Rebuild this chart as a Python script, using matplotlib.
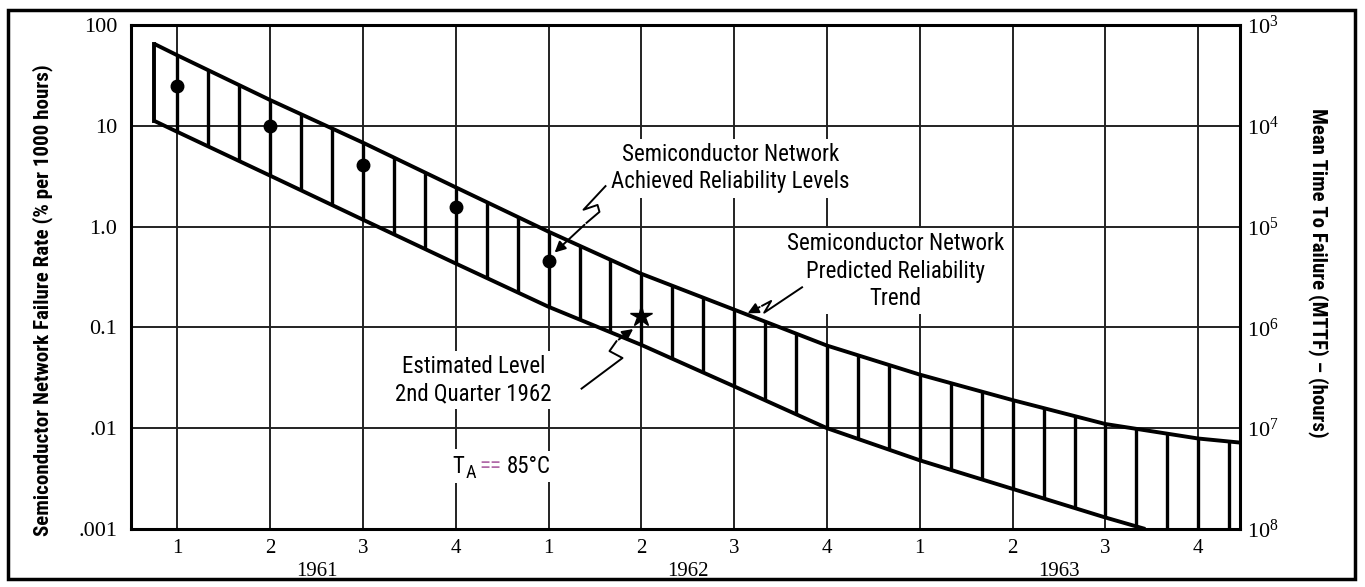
import numpy as np
import matplotlib
matplotlib.use('Agg')
import matplotlib.pyplot as plt
from matplotlib.patches import Rectangle
from matplotlib.ticker import NullLocator
from matplotlib import font_manager
import matplotlib.transforms as mtrans

# pick the narrowest sans that is installed
installed = {f.name for f in font_manager.fontManager.ttflist}
narrow_name = 'Liberation Sans'
for cand in ['Liberation Sans Narrow', 'Roboto Condensed', 'Open Sans Condensed', 'Liberation Sans']:
    if cand in installed:
        narrow_name = cand
        break
narrow = [narrow_name, 'DejaVu Sans']
serif = ['Liberation Serif', 'DejaVu Serif']

# quarters: 1 = 1961 Q1 ... 12 = 1963 Q4
quarter_labels = ['1', '2', '3', '4'] * 3
years = ['1961', '1962', '1963']
year_pos = [2.5, 6.5, 10.5]

# predicted reliability band (failure rate, % per 1000 h)
upper_x = [0.75, 1, 2, 3, 4, 5, 6, 7, 8, 9, 10, 11, 12, 12.45]
upper_y = [65, 50, 18, 6.8, 2.45, 0.89, 0.34, 0.15, 0.066, 0.034, 0.019, 0.011, 0.0079, 0.0072]
lower_x = [0.75, 1, 2, 3, 4, 5, 6, 7, 8, 9, 10, 11, 11.43]
lower_y = [11.2, 8.7, 3.2, 1.17, 0.43, 0.16, 0.067, 0.026, 0.010, 0.0048, 0.0025, 0.0013, 0.001]

# achieved levels and the estimate
achieved_q = [1, 2, 3, 4, 5]
achieved_rate = [24.7, 10, 4.1, 1.58, 0.46]
estimate_q = [6]
estimate_rate = [0.13]

rate_ticks = [0.001, 0.01, 0.1, 1, 10, 100]
rate_labels = ['.001', '.01', '0.1', '1.0', '10', '100']
mttf_labels = [r'$\mathregular{10^8}$', r'$\mathregular{10^7}$', r'$\mathregular{10^6}$',
               r'$\mathregular{10^5}$', r'$\mathregular{10^4}$', r'$\mathregular{10^3}$']

fig = plt.figure(figsize=(13.65, 5.87), dpi=100)
ax = fig.add_axes([131 / 1365, 1 - 529 / 587, (1240 - 131) / 1365, (529 - 25) / 587])
ax.set_yscale('log')
ax.set_xlim(0.5, 12.45)
ax.set_ylim(0.001, 100)
ax.yaxis.set_minor_locator(NullLocator())
ax.set_yticks(rate_ticks)
ax.set_yticklabels(rate_labels, family=serif, fontsize=16)
ax.set_xticks(range(1, 13))
ax.set_xticklabels(quarter_labels, family=serif, fontsize=15)
ax.tick_params(length=0, pad=10)
ax.tick_params(axis='x', pad=7)
ax.grid(True, color='#222222', linewidth=1.4)
ax.set_axisbelow(True)
for s in ax.spines.values():
    s.set_linewidth(2.2)

ax2 = ax.twinx()
ax2.set_yscale('log')
ax2.set_ylim(0.001, 100)
ax2.yaxis.set_minor_locator(NullLocator())
ax2.set_yticks(rate_ticks)
ax2.set_yticklabels(mttf_labels, family=serif, fontsize=16)
ax2.tick_params(length=0, pad=5)
for s in ax2.spines.values():
    s.set_visible(False)

# band edges
ax.plot(upper_x, upper_y, color='black', lw=2.8, solid_capstyle='butt', zorder=4)
ax.plot(lower_x, lower_y, color='black', lw=2.8, solid_capstyle='butt', zorder=4)
ax.plot([upper_x[0], lower_x[0]], [upper_y[0], lower_y[0]], color='black', lw=2.8, zorder=4)

# vertical hatching every third of a quarter
hx = np.arange(3, 38) / 3
top = 10 ** np.interp(hx, upper_x, np.log10(upper_y))
bot = 10 ** np.interp(hx, lower_x, np.log10(lower_y))
ax.vlines(hx, bot, top, color='black', lw=2.4, zorder=3)

ax.plot(achieved_q, achieved_rate, 'o', color='black', ms=9, zorder=5)
ax.plot(estimate_q, estimate_rate, '*', color='black', ms=16, zorder=5)

# font size so that "Semiconductor Network" is as wide as in the original
probe = fig.text(0, 0, 'Semiconductor Network', family=narrow, fontsize=15)
fig.canvas.draw()
r = fig.canvas.get_renderer()
fs = 15 * 217 / probe.get_window_extent(r).width
probe.remove()

box = dict(facecolor='white', edgecolor='none', pad=3)
ax.text(6.96, 3.8, 'Semiconductor Network\nAchieved Reliability Levels', family=narrow,
        fontsize=fs, ha='center', va='center', linespacing=1.25, bbox=box, zorder=6)
ax.text(8.74, 0.36, 'Semiconductor Network\nPredicted Reliability\nTrend', family=narrow,
        fontsize=fs, ha='center', va='center', linespacing=1.25, bbox=box, zorder=6)
ax.text(4.19, 0.030, 'Estimated Level\n2nd Quarter 1962', family=narrow,
        fontsize=fs, ha='center', va='center', linespacing=1.25, bbox=box, zorder=6)

# squiggly pointers
def squiggle(xs, ys, end):
    ax.plot(xs, ys, color='black', lw=1.4, zorder=6)
    ax.annotate('', xy=end, xytext=(xs[-1], ys[-1]),
                arrowprops=dict(arrowstyle='-|>', color='black', lw=1.4, mutation_scale=16), zorder=6)

squiggle([5.613, 5.376, 5.527, 5.548, 5.409], [2.52, 1.47, 1.64, 1.40, 1.09], (5.043, 0.53))
squiggle([5.355, 5.796, 5.656, 5.731], [0.0247, 0.0497, 0.0582, 0.0729], (5.935, 0.1))
squiggle([7.731, 7.323, 7.398, 7.301], [0.25, 0.14, 0.183, 0.164], (7.118, 0.134))

trans = mtrans.blended_transform_factory(ax.transData, ax.transAxes)
for yr, xp in zip(years, year_pos):
    ax.text(xp, -0.085, yr, transform=trans, family=serif, fontsize=15, ha='center', va='center')

ylab = fig.text(43 / 1365, 1 - 300 / 587, 'Semiconductor Network Failure Rate (% per 1000 hours)',
                family=narrow, fontweight='bold', fontsize=15, rotation=90, ha='center', va='center')
ylab2 = fig.text(1318 / 1365, 1 - 273 / 587, 'Mean Time To Failure (MTTF) \u2013 (hours)',
                 family=narrow, fontweight='bold', fontsize=15, rotation=270, ha='center', va='center')
fig.canvas.draw()
ylab.set_fontsize(15 * 472 / ylab.get_window_extent(r).height)
ylab2.set_fontsize(15 * 330 / ylab2.get_window_extent(r).height)

# T_A == 85°C
base = (3.968, 0.0042)
ta = [('T', (0, 0), fs, 'black', 4), ('A', (9, -5), fs * 0.8, 'black', 2),
      ('==', (19, 0), fs, '#b06aa8', 0), ('85°C', (38.5, 0), fs, 'black', 3)]
for s, off, size, col, p in ta:
    ax.annotate(s, base, xytext=off, textcoords='offset points', family=narrow, fontsize=size,
                color=col, ha='left', va='center', zorder=6,
                bbox=dict(fc='white', ec='none', pad=p) if p else None)

fig.patches.append(Rectangle((8 / 1365, 8 / 587), (1355 - 8) / 1365, (578 - 9) / 587,
                             transform=fig.transFigure, fill=False, ec='black', lw=2.5))

fig.savefig('out.png', dpi=100)
